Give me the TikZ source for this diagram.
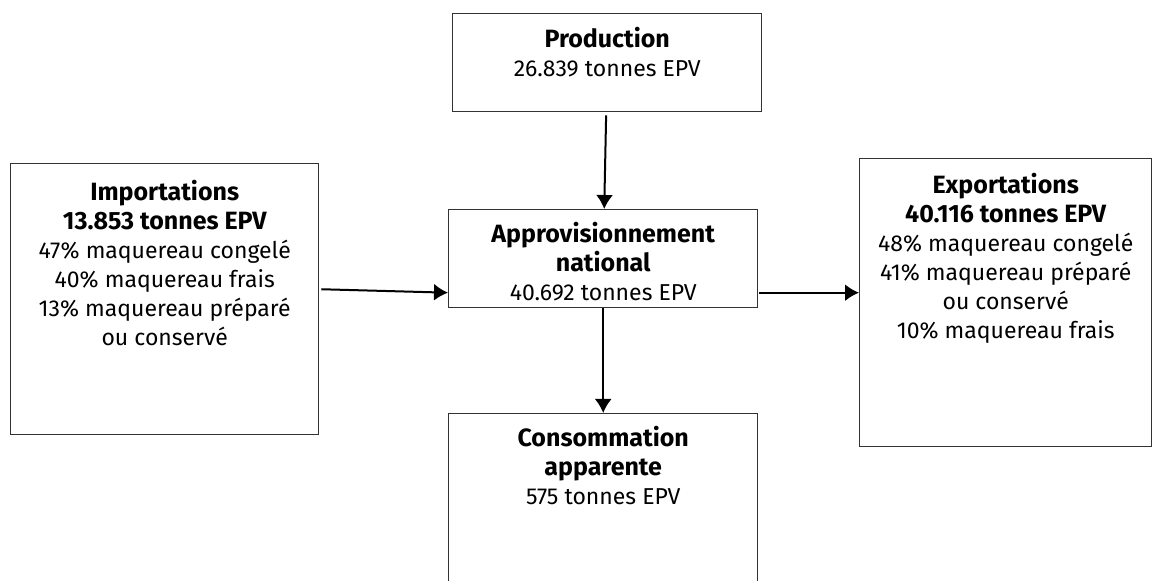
\documentclass[tikz,border=0pt]{standalone}
\usepackage{fontspec}
\setmainfont{Fira Sans}
\usetikzlibrary{arrows.meta}
\tikzset{
  {flow box/.style} ={draw=black!80, line width=0.7pt, anchor=north west,
                align=center, inner xsep=0pt, inner ysep=0pt,
                font=\fontsize{11.5}{14.5}\selectfont},
  >={Latex[length=7pt,width=8.5pt]},
  {flow/.style} ={->, line width=1pt},
 }
\newcommand{\boxhead}[1]{{\fontsize{12.5}{14.5}\selectfont\bfseries #1}}

\begin{document}
\begin{tikzpicture}[x=0.5pt,y=-0.5pt]
\useasboundingbox (0,0) rectangle (1152,581);
\node[flow box, minimum width=154.5pt, text height=31.5pt, text depth=17.5pt] (prod) at (452,13)
  {\boxhead{Production}\\26.839 tonnes EPV};
\node[flow box, minimum width=154.5pt, text height=45.5pt, text depth=3.5pt] (appr) at (448,209)
  {\boxhead{Approvisionnement}\\\boxhead{national}\\40.692 tonnes EPV};
\node[flow box, minimum width=154.5pt, text height=45.5pt, text depth=51pt] (cons) at (448,413)
  {\boxhead{Consommation}\\\boxhead{apparente}\\575 tonnes EPV};
\node[flow box, minimum width=154pt, text height=91pt, text depth=44.5pt] (imp) at (10,163)
  {\boxhead{Importations}\\\boxhead{13.853 tonnes EPV}\\47\% maquereau congelé\\
   40\% maquereau frais\\13\% maquereau préparé\\ou conservé};
\node[flow box, minimum width=146pt, text height=90pt, text depth=54pt] (exp) at (859,158)
  {\boxhead{Exportations}\\\boxhead{40.116 tonnes EPV}\\48\% maquereau congelé\\
   41\% maquereau préparé\\ou conservé\\10\% maquereau frais};
\draw[flow, shorten <=1.5pt] (prod) -- (appr);
\draw[flow] (appr) -- (cons);
\draw[flow, shorten <=1pt] ([yshift=5pt]imp.east) -- ([yshift=-17pt]appr.west);
\draw[flow, shorten <=0.5pt] ([yshift=-17pt]appr.east) -- ([yshift=5pt]exp.west);
\end{tikzpicture}
\end{document}
